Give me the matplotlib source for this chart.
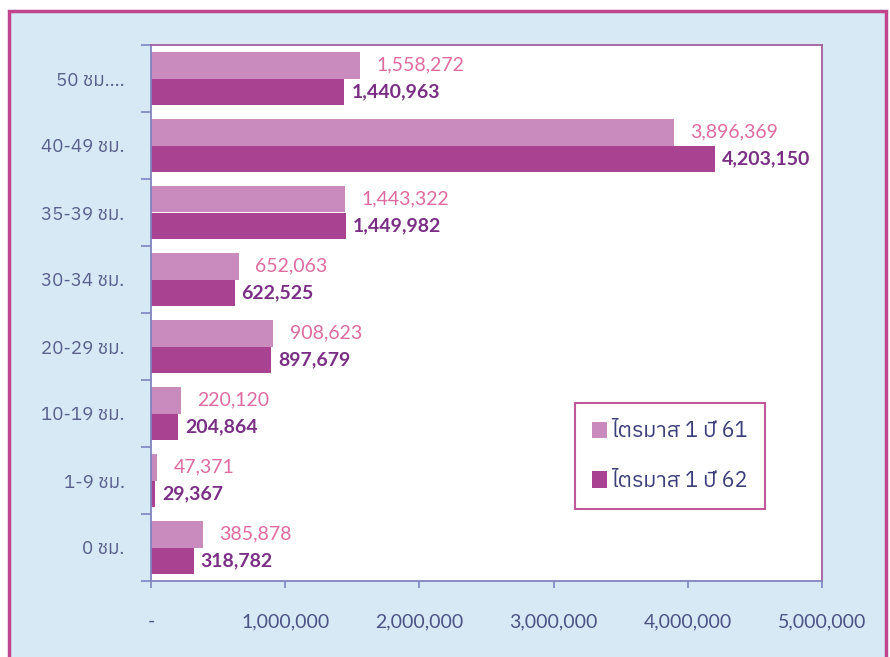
import numpy as np
import matplotlib
matplotlib.use("Agg")
import matplotlib.pyplot as plt
from matplotlib import font_manager
from matplotlib.ft2font import FT2Font
from matplotlib.patches import Rectangle, Patch

categories = ["50 ชม....", "40-49 ชม.", "35-39 ชม.", "30-34 ชม.",
              "20-29 ชม.", "10-19 ชม.", "1-9 ชม.", "0 ชม."]
q1_61 = [1558272, 3896369, 1443322, 652063, 908623, 220120, 47371, 385878]
q1_62 = [1440963, 4203150, 1449982, 622525, 897679, 204864, 29367, 318782]
series_names = ["ไตรมาส 1 ปี 61", "ไตรมาส 1 ปี 62"]
xticks = [0, 1000000, 2000000, 3000000, 4000000, 5000000]
xtick_labels = ["-", "1,000,000", "2,000,000", "3,000,000", "4,000,000", "5,000,000"]


def find_thai_font():
    # look for any installed font that has Thai glyphs
    found = []
    for path in font_manager.findSystemFonts():
        try:
            if 0x0E0A in FT2Font(path).get_charmap():
                found.append(font_manager.FontProperties(fname=path).get_name())
        except Exception:
            pass
    found.sort(key=lambda n: (0 if "Sans" in n else 1, n))
    return found[0] if found else None


thai = find_thai_font()
thai_family = [thai, "DejaVu Sans"] if thai else ["DejaVu Sans"]
num_family = ["Lato", "DejaVu Sans"]

light = "#c98bbe"
dark = "#a84291"
axis_col = "#7f84c0"
tick_txt = "#4d5385"

fig = plt.figure(figsize=(8.9, 6.57), dpi=100)
fig.patch.set_facecolor("white")
fig.patches.append(Rectangle((9 / 890, -0.02), 877 / 890, 1.02 - 11 / 657,
                             transform=fig.transFigure, facecolor="#d6e9f5",
                             edgecolor="#c0448e", linewidth=2.5, zorder=-10))

ax = fig.add_axes([151 / 890, 1 - 581 / 657, 671 / 890, 536 / 657])
ax.set_facecolor("white")

y = np.arange(len(categories))
h = 0.4
ax.barh(y - h / 2, q1_61, height=h, color=light, label=series_names[0], zorder=2)
ax.barh(y + h / 2, q1_62, height=h, color=dark, label=series_names[1], zorder=2)

for yi, v in zip(y, q1_61):
    ax.annotate(f"{v:,}", (v, yi - h / 2), xytext=(12, 0), textcoords="offset points",
                va="center", ha="left", color="#df6a9f", fontsize=14, family=num_family)
for yi, v in zip(y, q1_62):
    ax.annotate(f"{v:,}", (v, yi + h / 2), xytext=(5, 0), textcoords="offset points",
                va="center", ha="left", color="#7a2f85", fontsize=14,
                fontweight="bold", family=num_family)

ax.set_xlim(0, 5000000)
ax.set_ylim(len(categories) - 0.5, -0.5)

ax.set_xticks(xticks)
ax.set_xticklabels(xtick_labels, color=tick_txt, fontsize=14, family=num_family)
ax.tick_params(axis="x", direction="out", length=5, width=1.2, color=axis_col, pad=18)

ax.set_yticks(np.arange(len(categories) + 1) - 0.5)
ax.set_yticklabels([])
ax.set_yticks(y, minor=True)
ax.set_yticklabels(categories, minor=True, color="#5a5f8c", fontsize=13.5, family=thai_family)
ax.tick_params(axis="y", which="major", direction="out", length=7, width=1.2, color=axis_col)
ax.tick_params(axis="y", which="minor", length=0, pad=19)

ax.spines["left"].set_color(axis_col)
ax.spines["bottom"].set_color(axis_col)
ax.spines["top"].set_color("#a0609c")
ax.spines["right"].set_color("#a0609c")
for s in ax.spines.values():
    s.set_linewidth(1.3)

handles = [Patch(facecolor=light), Patch(facecolor=dark)]
leg = ax.legend(handles, series_names, loc="upper left",
                bbox_to_anchor=((575 - 151) / 671, (581 - 403) / 536),
                frameon=True, fancybox=False, edgecolor="#b0307f",
                prop={"family": thai_family, "size": 15.5}, labelcolor="#3a3f7a",
                handlelength=0.7, handleheight=0.8, handletextpad=0.2,
                labelspacing=1.3, borderpad=0.8, borderaxespad=0)
leg.get_frame().set_linewidth(1.5)

fig.savefig("out.png", dpi=100)
